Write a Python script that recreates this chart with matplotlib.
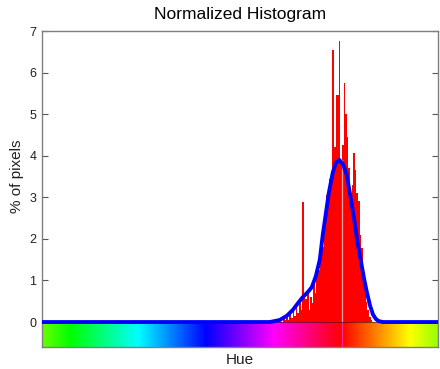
import numpy as np
import matplotlib
matplotlib.use("Agg")
import matplotlib.pyplot as plt
from matplotlib.colors import hsv_to_rgb

plt.rcParams['font.family'] = ['Liberation Sans', 'DejaVu Sans']

# ---- data ----
title = "Normalized Histogram"
xlabel = "Hue"
ylabel = "% of pixels"
yticks = [0, 1, 2, 3, 4, 5, 6, 7]

hue_left, hue_right = 0.2647, 1.2353   # unwrapped hue range shown on x-axis
n_bins = 256
first_bin = 216                         # bin index (unwrapped) of first bar
hist_pct = [0.03, 0.05, 0.0, 0.08, 0.04, 0.12, 0.06, 0.2, 0.1, 0.3,
            0.15, 0.4, 0.22, 0.5, 0.3, 2.88, 0.65, 0.55, 0.7, 0.3,
            0.6, 0.45, 1.05, 0.7, 1.3, 1.25, 1.6, 1.95, 1.8, 2.6,
            3.05, 3.0, 3.45, 3.6, 6.55, 4.2, 5.45, 5.45, 6.76, 3.9,
            4.25, 5.75, 5.0, 4.45, 3.7, 3.1, 3.3, 4.06, 3.65, 3.1,
            2.9, 2.1, 1.78, 1.3, 0.82, 0.48, 0.3, 0.12, 0.04]

# smoothed density curve (hue, %)
curve_hue = [0.2647, 0.8230, 0.8475, 0.8647, 0.8794, 0.8917, 0.9039, 0.9162,
             0.9260, 0.9358, 0.9456, 0.9529, 0.9603, 0.9676, 0.9775, 0.9848,
             0.9934, 1.0020, 1.0113, 1.0211, 1.0309, 1.0382, 1.0466, 1.0539,
             1.0613, 1.0686, 1.0760, 1.0833, 1.0907, 1.1005, 1.2353]
curve_pct = [0.0, 0.0, 0.05, 0.15, 0.29, 0.45, 0.6, 0.72,
             0.84, 1.1, 1.5, 2.1, 2.6, 3.1, 3.6, 3.82,
             3.9, 3.8, 3.55, 3.0, 2.4, 1.9, 1.45, 1.05,
             0.7, 0.4, 0.18, 0.07, 0.02, 0.0, 0.0]

# ---- figure ----
fig = plt.figure(figsize=(4.4, 3.69), dpi=100)
ax = fig.add_axes([42/440, 1 - 347/369, 396/440, 316/369])
ymin, ymax = -0.6, 7

# hue colour strip below zero
hh = np.linspace(hue_left, hue_right, 800) % 1.0
hsv = np.stack([hh, np.ones_like(hh), np.ones_like(hh)], axis=-1)[None, :, :]
ax.imshow(hsv_to_rgb(hsv), extent=[hue_left, hue_right, ymin, 0],
          aspect='auto', interpolation='bilinear', zorder=1)

# histogram bars
w = 1.0 / n_bins
centers = (np.arange(len(hist_pct)) + first_bin + 0.5) * w
ax.bar(centers, hist_pct, width=w, color='#ff0000', edgecolor='none',
       linewidth=0, zorder=2)

# hue wrap marker
ax.plot([1.0, 1.0], [0, 3.9], color='#ffa0a0', lw=0.9, zorder=3)
ax.plot([1.0, 1.0], [ymin, 0], color='#ff2a9a', lw=0.9, zorder=3)
ax.axhline(0, color='#401010', lw=0.8, alpha=0.6, zorder=3)

# density curve
ax.plot(curve_hue, curve_pct, color='#0000ff', lw=2.8, zorder=4,
        solid_joinstyle='round', solid_capstyle='butt')

ax.set_xlim(hue_left, hue_right)
ax.set_ylim(ymin, ymax)
ax.set_xticks([])
ax.set_yticks(yticks)
ax.tick_params(axis='y', direction='in', length=4, width=0.8,
               color='#555555', labelsize=9, labelcolor='#202020',
               pad=4, right=True, left=True)
for s in ax.spines.values():
    s.set_color('#7f7f7f')
    s.set_linewidth(1.0)

fig.text(240/440, 1 - 14/369, title, ha='center', va='center',
         fontsize=12.5, color='#000000')
fig.text(240/440, 1 - 360/369, xlabel, ha='center', va='center',
         fontsize=11, color='#202020')
fig.text(17/440, 1 - 176/369, ylabel, ha='center', va='center',
         rotation=90, fontsize=11, color='#202020')

fig.savefig('out.png', dpi=100)
